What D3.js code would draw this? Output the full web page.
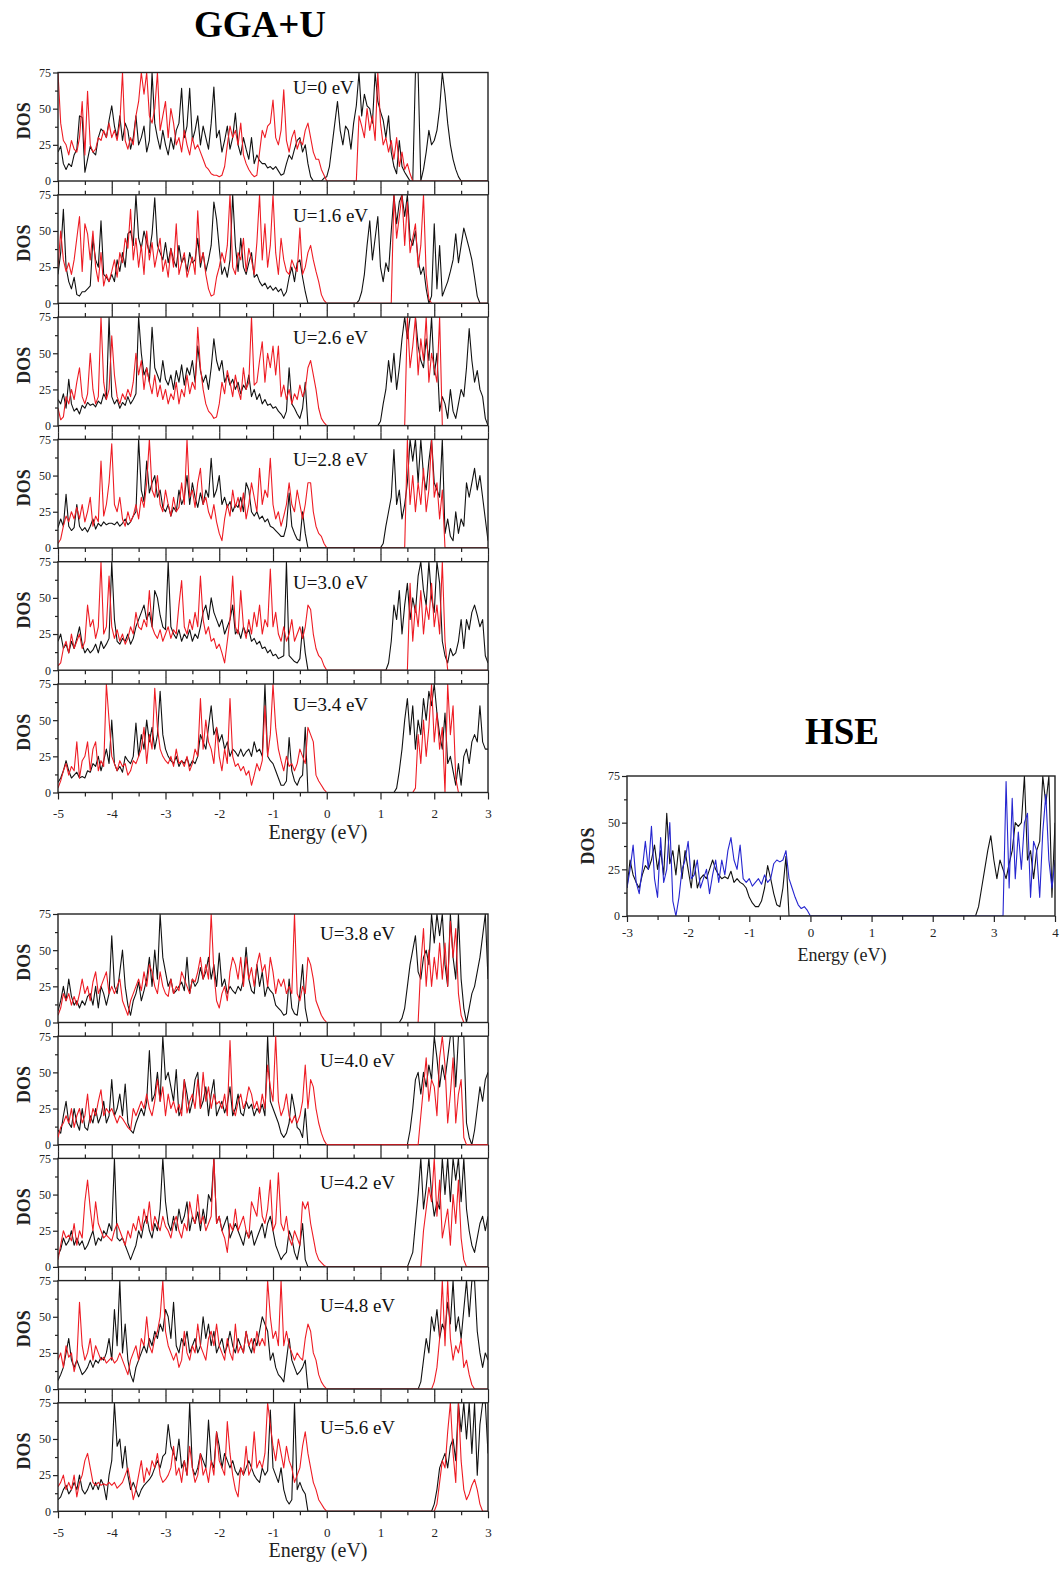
<!DOCTYPE html>
<html>
<head>
<meta charset="utf-8">
<script src="https://cdn.jsdelivr.net/npm/d3@7"></script>
<style>
  body { margin: 0; background: #fff; }
  text { font-family: "Liberation Serif", "Times New Roman", serif; }
</style>
</head>
<body>
<svg id="chart"></svg>
<script>
// energy grids (eV)
const energyGGA = [
  -5,-4.95,-4.9,-4.85,-4.8,-4.75,-4.7,-4.65,-4.6,-4.55,-4.5,-4.45,-4.4,-4.35,-4.3,-4.25,-4.2,-4.15,-4.1,-4.05,
  -4,-3.95,-3.9,-3.85,-3.8,-3.75,-3.7,-3.65,-3.6,-3.55,-3.5,-3.45,-3.4,-3.35,-3.3,-3.25,-3.2,-3.15,-3.1,-3.05,
  -3,-2.95,-2.9,-2.85,-2.8,-2.75,-2.7,-2.65,-2.6,-2.55,-2.5,-2.45,-2.4,-2.35,-2.3,-2.25,-2.2,-2.15,-2.1,-2.05,
  -2,-1.95,-1.9,-1.85,-1.8,-1.75,-1.7,-1.65,-1.6,-1.55,-1.5,-1.45,-1.4,-1.35,-1.3,-1.25,-1.2,-1.15,-1.1,-1.05,
  -1,-0.95,-0.9,-0.85,-0.8,-0.75,-0.7,-0.65,-0.6,-0.55,-0.5,-0.45,-0.4,-0.35,-0.3,-0.25,-0.2,-0.15,-0.1,-0.05,
  0,0.05,0.1,0.15,0.2,0.25,0.3,0.35,0.4,0.45,0.5,0.55,0.6,0.65,0.7,0.75,0.8,0.85,0.9,0.95,
  1,1.05,1.1,1.15,1.2,1.25,1.3,1.35,1.4,1.45,1.5,1.55,1.6,1.65,1.7,1.75,1.8,1.85,1.9,1.95,
  2,2.05,2.1,2.15,2.2,2.25,2.3,2.35,2.4,2.45,2.5,2.55,2.6,2.65,2.7,2.75,2.8,2.85,2.9,2.95,
  3
];
const energyHSE = [
  -3,-2.95,-2.9,-2.85,-2.8,-2.75,-2.7,-2.65,-2.6,-2.55,-2.5,-2.45,-2.4,-2.35,-2.3,-2.25,-2.2,-2.15,-2.1,-2.05,
  -2,-1.95,-1.9,-1.85,-1.8,-1.75,-1.7,-1.65,-1.6,-1.55,-1.5,-1.45,-1.4,-1.35,-1.3,-1.25,-1.2,-1.15,-1.1,-1.05,
  -1,-0.95,-0.9,-0.85,-0.8,-0.75,-0.7,-0.65,-0.6,-0.55,-0.5,-0.45,-0.4,-0.35,-0.3,-0.25,-0.2,-0.15,-0.1,-0.05,
  0,0.05,0.1,0.15,0.2,0.25,0.3,0.35,0.4,0.45,0.5,0.55,0.6,0.65,0.7,0.75,0.8,0.85,0.9,0.95,
  1,1.05,1.1,1.15,1.2,1.25,1.3,1.35,1.4,1.45,1.5,1.55,1.6,1.65,1.7,1.75,1.8,1.85,1.9,1.95,
  2,2.05,2.1,2.15,2.2,2.25,2.3,2.35,2.4,2.45,2.5,2.55,2.6,2.65,2.7,2.75,2.8,2.85,2.9,2.95,
  3,3.05,3.1,3.15,3.2,3.25,3.3,3.35,3.4,3.45,3.5,3.55,3.6,3.65,3.7,3.75,3.8,3.85,3.9,3.95,
  4
];

const xTicksGGA = [-5, -4, -3, -2, -1, 0, 1, 2, 3];
const xMinorGGA = [-4.5, -3.5, -2.5, -1.5, -0.5, 0.5, 1.5, 2.5];
const xTicksHSE = [-3, -2, -1, 0, 1, 2, 3, 4];
const xMinorHSE = [-2.5, -1.5, -0.5, 0.5, 1.5, 2.5, 3.5];
const yTicks = [0, 25, 50, 75];
const yMinor = [12.5, 37.5, 62.5];

const upperLabels = ['U=0 eV', 'U=1.6 eV', 'U=2.6 eV', 'U=2.8 eV', 'U=3.0 eV', 'U=3.4 eV'];
const lowerLabels = ['U=3.8 eV', 'U=4.0 eV', 'U=4.2 eV', 'U=4.8 eV', 'U=5.6 eV'];

// DOS, one value per energyGGA point
const dosU00Black = [
  20,24,12,8,12,10,18,22,45,44,6,15,24,20,18,30,36,34,30,42,
  52,38,30,45,28,40,35,22,30,45,25,30,38,20,28,75,40,30,22,35,
  25,18,30,22,35,40,64,30,38,64,28,35,45,25,38,30,22,40,65,30,
  35,20,28,38,22,30,47,25,18,30,22,15,30,12,18,14,12,12,9,10,
  8,10,7,4,5,12,18,15,22,28,30,20,25,12,3,0,0,0,0,2,
  3,10,25,40,55,35,25,38,35,22,40,52,75,45,60,52,50,40,75,55,
  48,42,30,45,20,10,5,28,10,6,3,0,0,75,75,0,8,20,35,25,
  28,35,50,75,60,40,25,15,8,3,0,0,0,0,0,0,0,0,0,0,
  0
];
const dosU00Red = [
  75,40,28,25,18,28,22,20,30,55,18,62,25,20,22,30,28,35,30,40,
  30,35,28,40,75,28,22,30,25,45,55,75,60,75,45,40,50,75,35,45,
  55,30,50,40,25,30,20,35,25,18,30,22,25,20,15,10,8,5,4,4,
  3,4,10,25,38,30,35,25,40,18,12,8,5,3,4,20,35,30,38,40,
  56,30,25,35,63,28,20,30,35,22,28,25,35,40,30,20,15,15,8,4,
  0,0,0,0,0,0,0,0,0,0,0,0,45,38,30,50,35,45,28,75,
  40,25,30,20,28,15,30,10,20,8,12,5,0,0,0,0,0,0,0,0,
  0,0,0,0,0,0,0,0,0,0,0,0,0,0,0,0,0,0,0,0,
  0
];
const dosU16Black = [
  20,35,65,25,15,10,18,6,5,8,8,10,12,45,30,25,57,20,18,15,
  20,15,30,22,35,25,48,50,40,75,45,38,50,42,35,48,73,40,35,30,
  42,28,38,30,25,40,28,32,22,35,28,30,45,25,35,22,30,40,70,58,
  38,20,25,18,30,75,40,22,45,25,20,28,35,18,20,15,12,14,10,12,
  9,11,8,10,5,8,18,25,15,28,30,18,8,0,0,0,0,0,0,0,
  0,0,0,0,0,0,0,0,0,0,0,0,2,8,20,40,57,30,45,60,
  25,15,28,22,50,75,55,70,75,60,75,45,40,50,30,20,25,10,0,5,
  55,10,40,5,10,15,22,30,48,28,40,52,45,38,30,18,5,0,0,0,
  0
];
const dosU16Red = [
  25,50,30,22,28,20,30,45,60,22,55,48,30,50,25,15,35,12,20,15,
  22,30,18,35,28,45,38,65,30,45,25,40,20,50,30,42,25,35,45,22,
  30,18,38,25,55,20,28,35,18,25,32,20,64,28,35,20,10,5,6,18,
  25,35,28,40,75,25,20,35,30,45,22,38,30,20,42,75,30,55,25,40,
  75,35,20,45,30,22,20,30,25,22,52,20,25,35,40,30,22,15,6,2,
  0,0,0,0,0,0,0,0,0,0,0,0,0,0,0,0,0,0,0,0,
  0,0,0,0,0,75,45,60,75,40,70,35,45,55,25,40,75,20,3,0,
  0,0,0,0,0,0,0,0,0,0,0,0,0,0,0,0,0,0,0,0,
  0
];
const dosU26Black = [
  18,15,22,12,32,15,10,12,8,14,12,16,14,15,13,17,15,22,18,75,
  20,15,18,12,16,14,20,15,18,22,75,50,35,40,30,68,40,35,30,45,
  32,28,35,25,38,30,42,28,40,35,45,30,55,38,30,35,25,40,60,45,
  38,45,30,35,28,32,25,30,22,28,25,35,20,25,18,22,15,18,14,15,
  12,13,10,8,5,10,40,15,12,8,5,12,30,0,0,0,0,0,0,0,
  0,0,0,0,0,0,0,0,0,0,0,0,0,0,0,0,0,0,0,0,
  3,15,25,45,30,50,25,40,60,75,60,75,75,75,55,45,40,60,45,75,
  35,50,10,20,15,5,25,10,5,15,25,20,40,67,45,30,38,25,20,5,
  0
];
const dosU26Red = [
  12,4,6,20,15,25,18,30,40,20,15,22,50,25,15,20,75,30,18,25,
  62,35,20,15,22,18,25,20,30,50,35,45,25,40,30,22,35,20,28,18,
  25,15,22,18,30,15,25,20,35,22,30,25,68,40,25,15,10,8,5,6,
  15,30,22,38,30,20,35,25,18,40,25,30,75,28,30,45,58,30,50,40,
  55,35,55,20,28,18,25,15,22,18,28,20,25,40,45,35,25,12,5,2,
  0,0,0,0,0,0,0,0,0,0,0,0,0,0,0,0,0,0,0,0,
  0,0,0,0,0,0,0,0,0,0,75,40,55,75,35,60,45,75,30,50,
  40,30,75,0,0,0,0,0,0,0,0,0,0,0,0,0,0,0,0,0,
  0
];
const dosU28Black = [
  14,20,15,37,15,12,14,30,15,12,14,11,15,20,13,17,15,18,16,17,
  17,16,18,15,17,20,16,18,22,25,75,40,32,60,38,45,50,35,40,28,
  25,30,22,28,25,40,30,35,50,30,45,35,28,38,30,40,35,62,35,40,
  50,30,35,28,32,25,30,28,35,25,45,40,25,22,25,20,22,18,20,15,
  14,12,10,8,8,15,38,15,10,6,5,25,10,0,0,0,0,0,0,0,
  0,0,0,0,0,0,0,0,0,0,0,0,0,0,0,0,0,0,0,0,
  0,3,15,25,35,68,30,40,20,30,45,75,60,75,45,75,50,40,60,75,
  45,40,35,75,10,20,8,5,25,10,20,15,45,35,45,55,40,50,35,20,
  5
];
const dosU28Red = [
  3,6,15,22,18,25,20,28,20,30,18,25,35,15,22,18,60,22,30,45,
  72,30,25,35,20,15,25,18,22,30,20,35,28,45,75,40,35,50,30,25,
  40,30,22,35,25,28,45,30,75,35,40,28,45,55,30,35,25,20,30,18,
  10,5,20,30,22,40,28,35,25,38,20,30,45,35,25,55,30,40,35,62,
  30,20,25,15,22,30,45,30,25,40,30,20,30,45,45,25,15,10,8,3,
  0,0,0,0,0,0,0,0,0,0,0,0,0,0,0,0,0,0,0,0,
  0,0,0,0,0,0,0,0,0,0,75,30,50,25,45,30,55,25,40,75,
  35,45,20,40,0,0,0,0,0,0,0,0,0,0,0,0,0,0,0,0,
  0
];
const dosU30Black = [
  20,25,15,18,12,20,15,22,30,18,12,15,12,14,18,12,20,15,18,22,
  75,35,20,18,22,20,25,18,22,30,35,40,45,35,40,30,55,50,38,30,
  28,75,30,25,22,28,20,25,22,28,20,25,22,30,40,45,35,50,40,35,
  30,35,25,30,35,45,25,28,22,30,25,28,20,22,18,20,15,16,12,14,
  10,11,8,9,10,75,10,8,6,5,8,30,12,0,0,0,0,0,0,0,
  0,0,0,0,0,0,0,0,0,0,0,0,0,0,0,0,0,0,0,0,
  0,0,0,5,20,45,35,55,25,45,60,35,50,40,65,75,55,45,75,50,
  40,75,60,20,10,5,15,10,12,20,35,15,35,28,40,45,38,30,35,10,
  5
];
const dosU30Red = [
  3,5,15,20,12,25,15,20,25,15,20,45,30,35,22,30,75,25,30,65,
  30,22,28,20,25,18,22,30,25,40,30,28,35,30,55,30,25,22,28,20,
  25,30,22,28,25,45,62,30,25,35,28,40,30,65,35,25,30,20,22,15,
  18,12,5,20,35,65,30,25,55,30,22,35,25,40,30,45,25,35,30,70,
  30,40,25,20,30,20,25,35,20,25,30,22,30,45,42,25,15,10,8,3,
  0,0,0,0,0,0,0,0,0,0,0,0,0,0,0,0,0,0,0,0,
  0,0,0,0,0,0,0,0,0,0,0,60,20,45,30,55,25,45,35,60,
  30,45,25,75,20,0,0,0,0,0,0,0,0,0,0,0,0,0,0,0,
  0
];
const dosU34Black = [
  7,10,15,22,15,10,12,14,10,11,10,15,14,20,18,25,15,22,30,20,
  50,20,15,18,14,25,22,20,25,48,25,40,30,50,35,45,30,40,70,40,
  30,25,22,20,25,18,22,20,24,18,22,20,25,40,35,30,45,60,40,45,
  35,40,30,35,25,30,28,25,30,25,28,30,25,35,28,30,25,75,25,22,
  20,15,10,5,5,8,38,15,8,5,10,12,45,0,0,0,0,0,0,0,
  0,0,0,0,0,0,0,0,0,0,0,0,0,0,0,0,0,0,0,0,
  0,0,0,0,0,0,3,15,30,50,65,40,60,30,50,40,65,50,70,60,
  75,55,40,30,55,20,25,15,5,20,5,25,30,20,35,40,35,60,35,30,
  30
];
const dosU34Red = [
  3,8,15,20,12,18,15,35,10,22,25,35,15,30,35,15,22,18,75,50,
  25,20,15,22,18,20,12,15,22,20,25,30,45,20,40,30,72,45,30,25,
  22,20,25,18,30,20,22,18,25,15,20,30,25,65,30,50,35,30,20,45,
  25,15,30,20,65,25,18,20,15,18,12,15,5,12,20,15,22,60,25,40,
  75,45,30,22,15,25,18,20,15,20,30,25,20,45,40,35,12,8,5,2,
  0,0,0,0,0,0,0,0,0,0,0,0,0,0,0,0,0,0,0,0,
  0,0,0,0,0,0,0,0,0,0,0,0,0,3,40,20,50,25,45,75,
  35,55,30,45,0,75,40,60,10,0,0,0,0,0,0,0,0,0,0,0,
  0
];
const dosU38Black = [
  8,15,25,15,30,18,12,15,10,15,12,18,20,12,25,10,25,20,12,20,
  60,25,20,35,50,25,12,5,15,20,28,15,22,30,45,25,50,30,75,45,
  35,25,30,20,22,25,28,22,45,20,30,25,28,38,30,35,45,30,40,25,
  48,25,30,20,25,22,20,25,22,30,52,30,22,20,40,25,35,18,25,22,
  20,12,10,8,5,6,30,10,6,5,20,40,10,0,0,0,0,0,0,0,
  0,0,0,0,0,0,0,0,0,0,0,0,0,0,0,0,0,0,0,0,
  0,0,0,0,0,0,0,0,3,10,25,40,50,60,35,30,45,50,40,75,
  55,75,60,75,40,25,75,45,30,75,30,10,0,10,20,25,35,45,60,75,
  30
];
const dosU38Red = [
  5,10,20,15,20,12,18,12,20,30,20,25,15,28,35,20,25,30,35,20,
  25,20,25,30,15,10,5,15,20,25,30,22,35,25,40,35,25,20,35,25,
  20,18,30,20,25,22,35,30,25,20,30,28,35,45,30,40,30,75,35,15,
  10,20,25,15,35,45,40,30,45,25,45,30,38,25,40,48,35,40,25,45,
  35,20,30,25,30,20,25,20,75,20,15,25,20,45,40,30,15,10,5,2,
  0,0,0,0,0,0,0,0,0,0,0,0,0,0,0,0,0,0,0,0,
  0,0,0,0,0,0,0,0,0,0,0,0,0,0,0,40,65,25,50,25,
  45,30,55,30,55,25,70,45,65,20,5,0,0,0,0,0,0,0,0,0,
  0
];
const dosU40Black = [
  10,8,20,30,15,12,25,15,10,25,12,10,20,15,25,15,20,30,15,20,
  45,20,25,35,20,42,15,10,8,15,20,25,20,30,65,30,35,50,30,75,
  45,50,40,30,52,20,25,45,35,22,30,45,50,25,30,40,20,35,45,20,
  25,30,22,28,40,20,25,35,22,20,30,25,28,20,25,22,28,20,75,30,
  25,20,15,8,5,8,15,35,25,12,10,5,25,0,0,0,0,0,0,0,
  0,0,0,0,0,0,0,0,0,0,0,0,0,0,0,0,0,0,0,0,
  0,0,0,0,0,0,0,0,0,0,0,10,25,45,50,35,50,40,55,45,
  75,60,40,55,45,60,75,75,40,75,75,75,15,5,0,10,25,40,30,45,
  50
];
const dosU40Red = [
  5,12,15,20,15,25,12,20,25,15,20,35,15,25,20,30,38,20,25,22,
  25,20,15,20,18,15,12,10,25,20,25,30,25,35,25,20,30,45,30,40,
  20,35,25,30,22,28,20,45,22,30,35,25,45,25,50,30,40,25,35,28,
  30,25,35,20,72,25,20,30,35,25,30,40,35,25,30,22,35,25,55,40,
  30,75,30,20,25,35,20,15,20,15,20,30,55,25,45,40,25,15,8,3,
  0,0,0,0,0,0,0,0,0,0,0,0,0,0,0,0,0,0,0,0,
  0,0,0,0,0,0,0,0,0,0,0,0,0,0,0,20,40,60,30,45,
  40,20,60,75,55,15,35,60,15,35,45,5,0,0,0,0,0,0,0,0,
  0
];
const dosU42Black = [
  8,12,20,15,18,25,15,20,15,18,12,15,20,25,15,20,18,25,22,30,
  25,75,20,18,20,15,10,5,10,15,25,20,30,35,25,20,30,25,40,75,
  45,30,25,35,25,40,30,35,45,25,35,30,38,25,40,30,50,45,75,30,
  35,25,30,35,20,25,30,25,20,15,25,20,25,15,20,25,30,20,30,35,
  25,15,10,5,8,10,25,20,10,5,15,30,5,0,0,0,0,0,0,0,
  0,0,0,0,0,0,0,0,0,0,0,0,0,0,0,0,0,0,0,0,
  0,0,0,0,0,0,0,0,0,0,0,5,10,30,50,75,40,55,75,50,
  35,45,40,75,50,75,45,75,60,75,45,75,40,25,15,10,20,30,35,25,
  35
];
const dosU42Red = [
  5,15,25,20,22,18,30,15,25,20,45,60,40,25,45,30,25,20,22,20,
  18,25,30,25,20,15,25,20,30,25,35,25,40,30,45,25,35,30,25,35,
  28,25,20,30,35,25,20,30,25,45,35,30,50,30,35,25,30,35,75,30,
  35,25,20,10,30,25,40,25,30,35,25,20,45,40,35,55,35,30,40,60,
  25,30,65,30,25,35,20,15,25,20,15,45,40,45,30,20,10,5,3,1,
  0,0,0,0,0,0,0,0,0,0,0,0,0,0,0,0,0,0,0,0,
  0,0,0,0,0,0,0,0,0,0,0,0,0,0,0,0,25,40,55,45,
  75,35,60,20,30,40,15,50,30,60,20,5,0,0,0,0,0,0,0,0,
  0
];
const dosU48Black = [
  6,10,15,25,35,20,15,20,15,10,12,15,20,15,20,18,22,20,25,35,
  20,55,30,75,25,45,20,10,5,15,20,25,30,25,35,30,40,35,45,40,
  55,50,35,60,30,25,35,30,40,25,30,35,25,30,50,35,45,30,40,25,
  30,35,25,30,40,30,25,35,30,25,40,30,25,35,30,40,50,45,40,20,
  25,15,10,8,5,20,35,20,15,10,12,15,20,0,0,0,0,0,0,0,
  0,0,0,0,0,0,0,0,0,0,0,0,0,0,0,0,0,0,0,0,
  0,0,0,0,0,0,0,0,0,0,0,0,0,0,0,5,20,35,25,50,
  40,55,35,45,40,60,45,75,40,50,35,55,75,50,75,75,40,25,15,25,
  20
];
const dosU48Red = [
  20,25,15,30,22,25,12,20,60,30,20,25,35,20,30,25,20,22,18,20,
  22,18,20,25,20,15,10,20,25,30,20,35,30,50,30,25,35,40,50,75,
  40,30,25,20,25,15,20,40,25,20,30,25,45,30,25,20,35,40,30,45,
  30,25,20,35,25,20,45,25,30,25,40,30,35,25,40,30,35,30,75,50,
  35,40,30,75,30,40,30,25,20,25,22,20,35,45,40,25,20,10,5,2,
  0,0,0,0,0,0,0,0,0,0,0,0,0,0,0,0,0,0,0,0,
  0,0,0,0,0,0,0,0,0,0,0,0,0,0,0,0,0,0,0,0,
  5,15,35,75,30,75,35,20,30,25,35,15,20,10,3,0,0,0,0,0,
  0
];
const dosU56Black = [
  8,10,15,18,12,15,20,15,25,15,12,15,20,15,20,15,22,18,8,25,
  35,75,45,50,30,45,25,15,20,15,10,15,18,20,22,25,30,35,30,38,
  40,60,45,40,35,50,30,35,25,75,30,25,30,40,35,30,63,35,30,55,
  45,30,40,35,30,35,28,25,30,25,30,35,30,25,22,20,30,25,28,70,
  30,25,20,30,15,8,5,8,75,15,20,15,12,0,0,0,0,0,0,0,
  0,0,0,0,0,0,0,0,0,0,0,0,0,0,0,0,0,0,0,0,
  0,0,0,0,0,0,0,0,0,0,0,0,0,0,0,0,0,0,0,0,
  5,15,30,35,40,30,45,50,35,75,55,75,50,75,40,75,25,60,75,75,
  40
];
const dosU56Red = [
  17,20,25,15,20,15,25,10,20,25,35,40,30,20,18,20,18,19,18,20,
  18,20,16,18,20,25,30,20,8,15,25,35,20,30,25,35,30,40,25,20,
  22,25,30,45,25,30,20,35,25,45,30,20,25,40,25,30,20,35,25,55,
  35,30,25,62,40,25,15,10,30,25,45,25,30,55,30,35,30,40,75,60,
  45,35,50,40,30,45,35,30,20,25,30,45,55,40,30,20,15,8,5,2,
  0,0,0,0,0,0,0,0,0,0,0,0,0,0,0,0,0,0,0,0,
  0,0,0,0,0,0,0,0,0,0,0,0,0,0,0,0,0,0,0,0,
  0,5,20,35,30,55,75,40,20,75,35,15,8,12,18,22,15,5,0,0,
  0
];

// HSE, one value per energyHSE point
const dosHseBlack = [
  15,30,22,18,15,22,27,25,30,38,25,35,22,55,28,35,22,38,20,35,
  25,15,30,15,20,22,20,25,30,25,22,20,21,20,24,18,20,18,17,15,
  10,7,5,5,8,15,27,20,12,6,5,15,32,0,0,0,0,0,0,0,
  0,0,0,0,0,0,0,0,0,0,0,0,0,0,0,0,0,0,0,0,
  0,0,0,0,0,0,0,0,0,0,0,0,0,0,0,0,0,0,0,0,
  0,0,0,0,0,0,0,0,0,0,0,0,0,0,0,5,15,25,35,43,
  30,20,30,25,20,28,35,50,48,50,75,30,35,20,35,40,75,60,75,10,
  50
];
const dosHseBlue = [
  15,25,38,18,12,25,40,25,48,20,10,42,18,25,50,8,0,10,25,30,
  40,20,22,30,15,20,25,12,22,30,18,30,22,35,42,30,25,38,20,18,
  20,16,18,20,17,22,18,20,28,30,29,30,35,20,15,10,6,4,5,3,
  0,0,0,0,0,0,0,0,0,0,0,0,0,0,0,0,0,0,0,0,
  0,0,0,0,0,0,0,0,0,0,0,0,0,0,0,0,0,0,0,0,
  0,0,0,0,0,0,0,0,0,0,0,0,0,0,0,0,0,0,0,0,
  0,0,0,0,72,15,63,20,45,25,50,55,10,40,35,10,45,65,30,15,
  30
];

const upperSeries = [
  [dosU00Black, dosU00Red], [dosU16Black, dosU16Red], [dosU26Black, dosU26Red],
  [dosU28Black, dosU28Red], [dosU30Black, dosU30Red], [dosU34Black, dosU34Red]
];
const lowerSeries = [
  [dosU38Black, dosU38Red], [dosU40Black, dosU40Red], [dosU42Black, dosU42Red],
  [dosU48Black, dosU48Red], [dosU56Black, dosU56Red]
];

const W = 1063, H = 1570;
const FONT = '"Liberation Serif", "Times New Roman", serif';
const INK = '#222';
const RED = '#ee1c24';
const BLUE = '#2626d0';

const svg = d3.select('#chart').attr('width', W).attr('height', H);
svg.append('rect').attr('width', W).attr('height', H).attr('fill', '#fff');

function styleAxis(a, fontSize) {
  a.select('.domain').remove();
  a.attr('font-family', FONT).attr('font-size', fontSize);
  a.selectAll('line').attr('stroke', INK).attr('stroke-width', 1.2);
  a.selectAll('text').attr('fill', INK);
}

let clipId = 0;
function drawPanel(p) {
  const y = d3.scaleLinear().domain([0, 75]).range([p.top + p.h, p.top]);
  const [x0, x1] = p.x.range();
  const g = svg.append('g');
  const id = 'clip' + (clipId++);
  // lines on the baseline stay visible in the panel that shows them (U=4.0 eV)
  const extra = p.overFrame ? 1 : 0;
  g.append('clipPath').attr('id', id).append('rect')
    .attr('x', x0).attr('y', p.top).attr('width', x1 - x0).attr('height', p.h + extra);

  const frame = () => g.append('rect').attr('x', x0).attr('y', p.top)
    .attr('width', x1 - x0).attr('height', p.h)
    .attr('fill', 'none').attr('stroke', INK).attr('stroke-width', 1.4);
  if (p.overFrame) frame();

  const line = d3.line().x((d, i) => p.x(p.energy[i])).y(d => y(d));
  p.series.forEach((s, k) => {
    g.append('path').attr('d', line(s))
      .attr('fill', 'none').attr('stroke', p.colors[k])
      .attr('stroke-width', 1.1).attr('stroke-linejoin', 'round')
      .attr('clip-path', `url(#${id})`);
  });

  // y axis
  styleAxis(g.append('g').attr('transform', `translate(${x0},0)`)
    .call(d3.axisLeft(y).tickValues(yTicks).tickSize(5).tickPadding(2)), 12);
  styleAxis(g.append('g').attr('transform', `translate(${x0},0)`)
    .call(d3.axisLeft(y).tickValues(yMinor).tickSize(3).tickFormat('')), 12);

  // bottom axis
  const fmt = p.labels ? (d => String(d)) : '';
  styleAxis(g.append('g').attr('transform', `translate(0,${p.top + p.h})`)
    .call(d3.axisBottom(p.x).tickValues(p.xTicks).tickSize(p.majorLen).tickPadding(p.pad).tickFormat(fmt)), 13);
  styleAxis(g.append('g').attr('transform', `translate(0,${p.top + p.h})`)
    .call(d3.axisBottom(p.x).tickValues(p.xMinor).tickSize(p.minorLen).tickFormat('')), 13);

  // top ticks facing the panel above
  if (p.topTicks) {
    styleAxis(g.append('g').attr('transform', `translate(0,${p.top})`)
      .call(d3.axisTop(p.x).tickValues(p.xTicks).tickSize(p.majorLen).tickFormat('')), 13);
    styleAxis(g.append('g').attr('transform', `translate(0,${p.top})`)
      .call(d3.axisTop(p.x).tickValues(p.xMinor).tickSize(p.minorLen).tickFormat('')), 13);
  }

  if (!p.overFrame) frame();

  g.append('text')
    .attr('transform', `translate(${p.dosX},${p.top + p.h / 2 - p.dosShift}) rotate(-90)`)
    .attr('text-anchor', 'middle').attr('font-size', 18).attr('font-weight', 'bold')
    .attr('fill', INK).text('DOS');

  if (p.tag) {
    g.append('text').attr('x', p.tagX).attr('y', p.top + p.tagDy)
      .attr('font-size', 19).attr('fill', '#111').text(p.tag);
  }
  return y;
}

const xGGA = d3.scaleLinear().domain([-5, 3]).range([58, 488]);
const PANEL_H = 108.5;

function drawGroup(top0, step, labels, seriesList, tagX, tagDy0, tagDy, overFrameIndex) {
  seriesList.forEach((series, i) => {
    const last = i === seriesList.length - 1;
    drawPanel({
      x: xGGA, energy: energyGGA, series, colors: ['#111', RED],
      top: top0 + i * step, h: PANEL_H,
      xTicks: xTicksGGA, xMinor: xMinorGGA, majorLen: 7, minorLen: 4, pad: 9,
      labels: last, topTicks: i > 0, overFrame: i === overFrameIndex,
      dosX: 30, dosShift: 6,
      tag: labels[i], tagX, tagDy: i === 0 ? tagDy0 : tagDy
    });
  });
  const bottom = top0 + (seriesList.length - 1) * step + PANEL_H;
  svg.append('text').attr('x', 318).attr('y', bottom + 46)
    .attr('text-anchor', 'middle').attr('font-size', 20).attr('fill', INK)
    .text('Energy (eV)');
}

drawGroup(72.5, 122.3, upperLabels, upperSeries, 293, 21, 27, -1);
drawGroup(914, 122.2, lowerLabels, lowerSeries, 320, 26, 31, 1);

svg.append('text').attr('x', 260).attr('y', 37).attr('text-anchor', 'middle')
  .attr('font-size', 37).attr('font-weight', 'bold').attr('fill', '#000').text('GGA+U');

// HSE panel
const xHSE = d3.scaleLinear().domain([-3, 4]).range([627, 1055]);
drawPanel({
  x: xHSE, energy: energyHSE, series: [dosHseBlack, dosHseBlue], colors: ['#111', BLUE],
  top: 776, h: 140,
  xTicks: xTicksHSE, xMinor: xMinorHSE, majorLen: 6, minorLen: 4, pad: 6,
  labels: true, topTicks: false, overFrame: false,
  dosX: 594, dosShift: 0, tag: null
});
svg.append('text').attr('x', 842).attr('y', 961).attr('text-anchor', 'middle')
  .attr('font-size', 18).attr('fill', INK).text('Energy (eV)');
svg.append('text').attr('x', 842).attr('y', 744).attr('text-anchor', 'middle')
  .attr('font-size', 37).attr('font-weight', 'bold').attr('fill', '#000').text('HSE');
</script>
</body>
</html>
